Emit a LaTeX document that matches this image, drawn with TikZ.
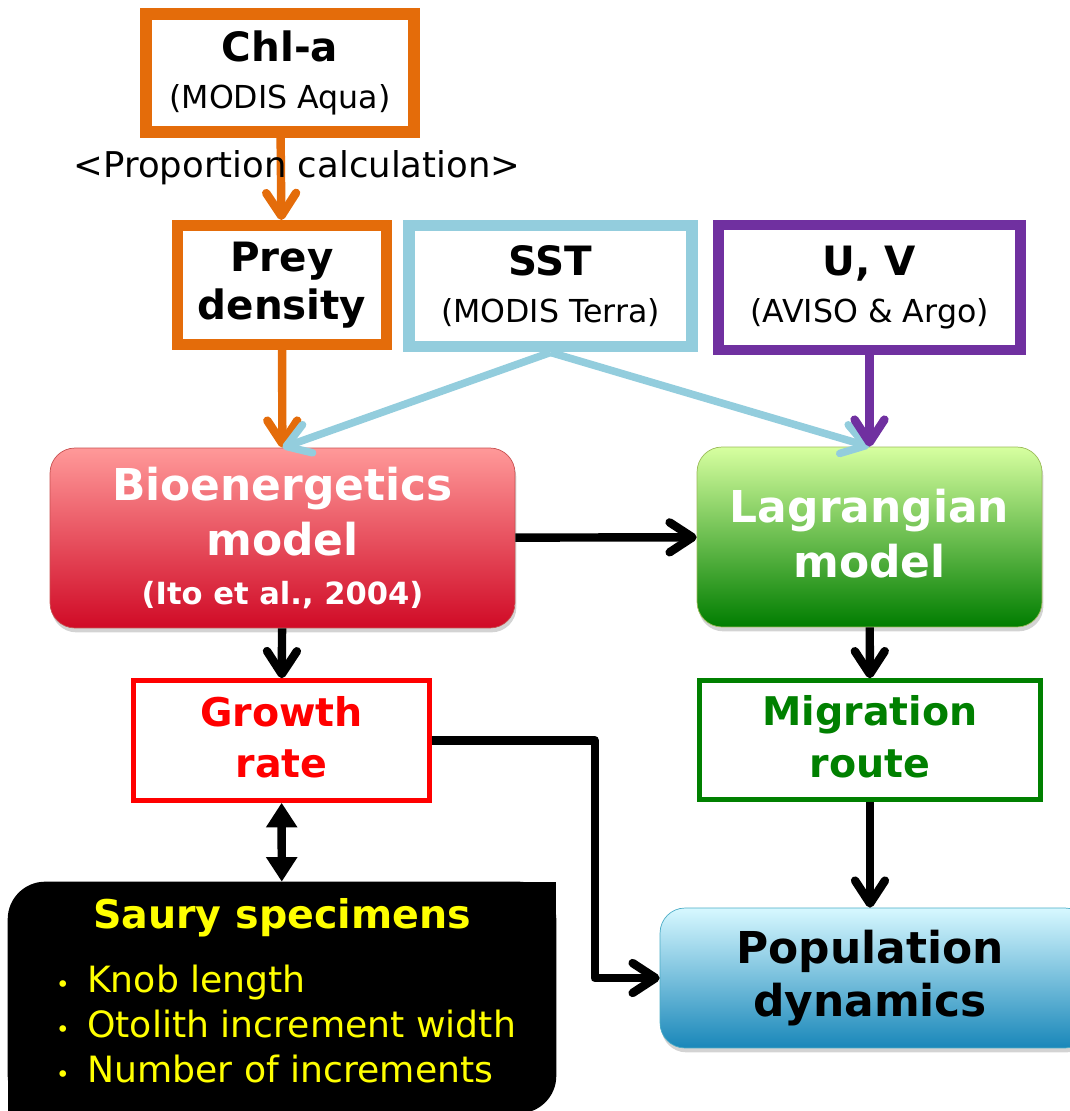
\documentclass[tikz,border=0pt]{standalone}
\usepackage{fontspec}
\setmainfont{DejaVu Sans}
\usetikzlibrary{arrows.meta,shadows,backgrounds}

\definecolor{chlorange}{RGB}{228,108,10}
\definecolor{sstblue}{RGB}{147,205,221}
\definecolor{uvpurple}{RGB}{112,48,160}
\definecolor{growred}{RGB}{255,0,0}
\definecolor{migrgreen}{RGB}{0,128,0}
\definecolor{specyellow}{RGB}{255,255,0}

\newcommand{\boxtitle}{\bfseries\fontsize{23}{27}\selectfont}
\newcommand{\srcnote}{\mdseries\fontsize{18}{27}\selectfont}
\newcommand{\modeltitle}{\bfseries\fontsize{25}{31.5}\selectfont}
\newcommand{\specdot}{\makebox[1.35em][c]{\fontsize{13}{13}\selectfont •}}

\tikzset{
  databox/.style={rectangle, draw, fill=white, inner sep=0pt, align=center, font=\boxtitle},
  modelbox/.style={rectangle, draw, rounded corners=0.5cm, inner sep=0pt, align=center,
    text=white, font=\modeltitle,
    drop shadow={opacity=0.35, shadow xshift=0.8pt, shadow yshift=-2.5pt}},
  resultbox/.style={rectangle, draw, fill=white, line width=2.6pt, inner sep=0pt, align=center,
    font=\bfseries\fontsize{22.5}{29.5}\selectfont},
  flow/.style={line width=4.8pt, -{Straight Barb[round, length=13pt, width=17pt]}},
  both/.style={line width=4.8pt, {Triangle[length=14pt, width=17pt]}-{Triangle[length=14pt, width=17pt]}},
}

\begin{document}
\begin{tikzpicture}[x=0.02cm, y=-0.02cm]
  \useasboundingbox (0,0) rectangle (1069,1111);
  % Input data
  \node (chl) [databox, draw=chlorange, line width=6.8pt, minimum width=5.36cm, minimum height=2.36cm] at (280,73) {Chl-a\\{\srcnote (MODIS Aqua)}};
  \node (prey) [databox, draw=chlorange, line width=6.2pt, minimum width=4.18cm, minimum height=2.38cm] at (282,285) {Prey\\density};
  \node (sst) [databox, draw=sstblue, line width=6.8pt, minimum width=5.66cm, minimum height=2.42cm] at (550.5,286) {SST\\{\srcnote (MODIS Terra)}};
  \node (uv) [databox, draw=uvpurple, line width=6.2pt, minimum width=6.04cm, minimum height=2.5cm] at (869.5,287.5) {U, V\\{\srcnote (AVISO \& Argo)}};
  % Models
  \node (bio) [modelbox, draw={rgb,255:red,200;green,80;blue,80}, top color={rgb,255:red,255;green,153;blue,153}, middle color={rgb,255:red,210;green,55;blue,58}, bottom color={rgb,255:red,208;green,10;blue,38}, minimum width=9.3cm, minimum height=3.6cm] at (282.5,538) {Bioenergetics\\model\\[-3.4pt]{\fontsize{17.4}{20}\selectfont (Ito et al., 2004)}};
  \node (lag) [modelbox, draw={rgb,255:red,155;green,187;blue,89}, top color={rgb,255:red,215;green,255;blue,160}, middle color={rgb,255:red,80;green,165;blue,75}, bottom color={rgb,255:red,0;green,125;blue,0}, minimum width=6.9cm, minimum height=3.6cm] at (869.5,537) {\raisebox{4pt}{Lagrangian}\\\raisebox{4pt}{model}};
  % Results
  \node (growth) [resultbox, draw=growred, text=growred, minimum width=5.92cm, minimum height=2.4cm] at (281.5,740.5) {\raisebox{4pt}{Growth}\\\raisebox{4pt}{rate}};
  \node (mig) [resultbox, draw=migrgreen, text=migrgreen, minimum width=6.82cm, minimum height=2.38cm] at (870,740) {\raisebox{4pt}{Migration}\\\raisebox{4pt}{route}};
  \node (pop) [modelbox, text=black, draw={rgb,255:red,75;green,172;blue,198}, top color={rgb,255:red,215;green,248;blue,255}, middle color={rgb,255:red,90;green,205;blue,235}, bottom color={rgb,255:red,25;green,135;blue,185}, minimum width=8.6cm, minimum height=2.8cm, font=\bfseries\fontsize{25}{30.6}\selectfont] at (875,978) {\hspace*{-5.7pt}Population\\\hspace*{-5.7pt}dynamics};
  % Specimens
  \node (saury) [rectangle, inner sep=0pt, minimum width=10.96cm, minimum height=4.62cm] at (282,997.5) {};
  \begin{pgfonlayer}{background}
    \fill[rounded corners=0.75cm] (saury.south west) rectangle (saury.north east);
    \fill (saury.north east) rectangle ++(-40,40);
    \fill (saury.south west) rectangle ++(40,-40);
  \end{pgfonlayer}
  \node (sauryhead) [text=specyellow, font=\bfseries\fontsize{22.5}{27}\selectfont] at (282,918) {Saury specimens};
  \node (sauryitems) [anchor=west, inner sep=0pt, align=left, text=specyellow, font=\fontsize{20.6}{25.5}\selectfont] at (38,1024) {\specdot Knob length\\\specdot Otolith increment width\\\specdot Number of increments};
  % Arrows
  \draw[flow, draw=chlorange] (chl) -- (prey);
  \node (calc) [font=\fontsize{20.2}{24}\selectfont] at (297,168) {<Proportion calculation>};
  \draw[flow, draw=chlorange] (prey) -- (bio);
  \draw[flow, draw=sstblue, line width=4.3pt] (sst.south) -- (bio.north);
  \draw[flow, draw=sstblue, line width=4.3pt] (sst.south) -- (lag.north);
  \draw[flow, draw=uvpurple] (uv) -- (lag);
  \draw[flow] (bio) -- (lag);
  \draw[flow] (bio) -- (growth);
  \draw[flow] (lag) -- (mig);
  \draw[flow] (mig) -- (mig |- pop.north);
  \draw[flow, line join=round] (growth.east) -- ++(163,0) |- (pop.west);
  \draw[both] (growth) -- (saury);
\end{tikzpicture}
\end{document}
